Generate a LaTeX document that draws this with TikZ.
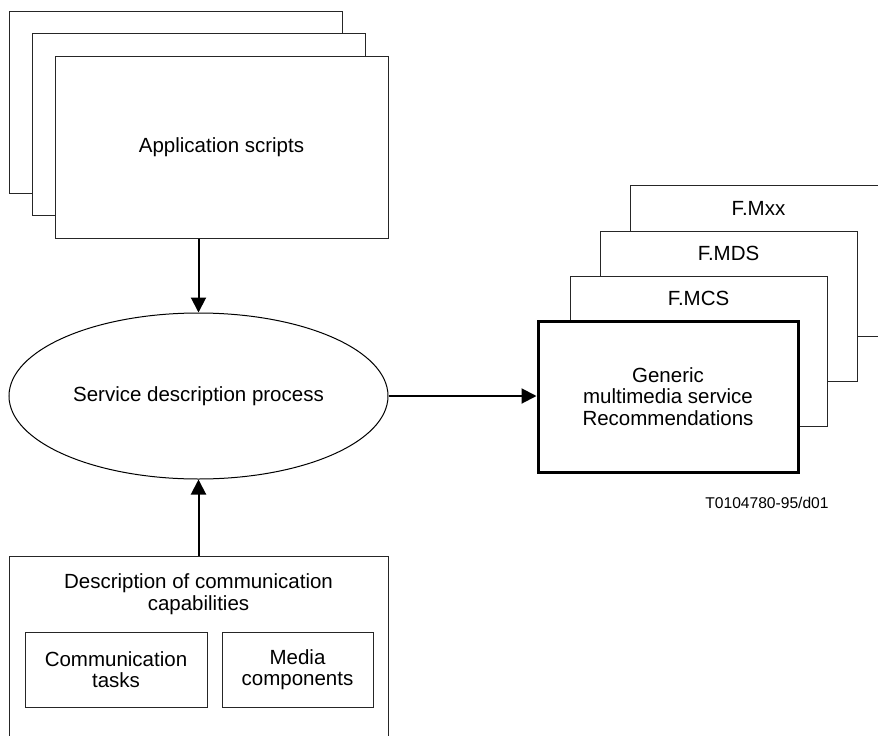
\documentclass[tikz,border=0pt]{standalone}
\usepackage{fontspec}
\setmainfont{Liberation Sans}
\usetikzlibrary{arrows.meta,shapes.geometric}

\tikzset{
  box/.style={draw=black!85, line width=1pt, fill=white, rectangle, inner sep=0pt},
  thickbox/.style={draw=black, line width=3pt, fill=white, rectangle, inner sep=0pt},
  lbl/.style={inner sep=0pt, align=center, font=\fontsize{20.5}{21.5}\selectfont},
  smalllbl/.style={inner sep=0pt, font=\fontsize{15.6}{17}\selectfont},
  flow/.style={line width=2pt, -{Triangle[length=15pt,width=15pt]}},
}

\begin{document}
\begin{tikzpicture}[x=1pt,y=-1pt]
\useasboundingbox (0,0) rectangle (878,736);
\clip (0,0) rectangle (878,736);

% stacked application script sheets
\node[box, minimum width=333pt, minimum height=182pt] (as3) at (176,102) {};
\node[box, minimum width=333pt, minimum height=182pt] (as2) at (199,124.5) {};
\node[box, minimum width=333pt, minimum height=182pt] (as1) at (221.5,147) {};
\node[lbl] (astext) at (as1.center) {Application scripts};

% central process
\node[ellipse, draw=black, line width=1pt, minimum width=379pt, minimum height=166pt, inner sep=0pt] (sdp) at (198.5,396) {};
\node[lbl] (sdptext) at (sdp.center) {Service description process};

% communication capabilities
\node[box, minimum width=379pt, minimum height=204pt] (cap) at (198.5,658) {};
\node[lbl] (captext) at (198.5,594) {Description of communication\\capabilities};
\node[box, minimum width=182pt, minimum height=75pt] (ct) at (116,669.5) {};
\node[lbl] (cttext) at (ct.center) {Communication\\tasks};
\node[box, minimum width=151pt, minimum height=75pt] (mc) at (297.5,669.5) {};
\node[lbl] (mctext) at (mc.center) {Media\\components};

% stacked service Recommendations
\node[box, minimum width=257pt, minimum height=151pt] (mxx) at (758.5,260.5) {};
\node[lbl] (mxxtext) at (758.5,208) {F.Mxx};
\node[box, minimum width=257pt, minimum height=150pt] (mds) at (728.5,306) {};
\node[lbl] (mdstext) at (728.5,253.5) {F.MDS};
\node[box, minimum width=257pt, minimum height=150pt] (mcs) at (698.5,351) {};
\node[lbl] (mcstext) at (698.5,298.5) {F.MCS};
\node[thickbox, minimum width=260pt, minimum height=151pt] (gen) at (668,396.5) {};
\node[lbl] (gentext) at (gen.center) {Generic\\multimedia service\\Recommendations};

\node[smalllbl] (ref) at (767,503) {T0104780-95/d01};

% connectors
\draw[flow] (sdp.north |- as1.south) -- (sdp.north);
\draw[flow] (sdp.south |- cap.north) -- (sdp.south);
\draw[flow] (sdp.east) -- (sdp.east -| gen.west);
\end{tikzpicture}
\end{document}
